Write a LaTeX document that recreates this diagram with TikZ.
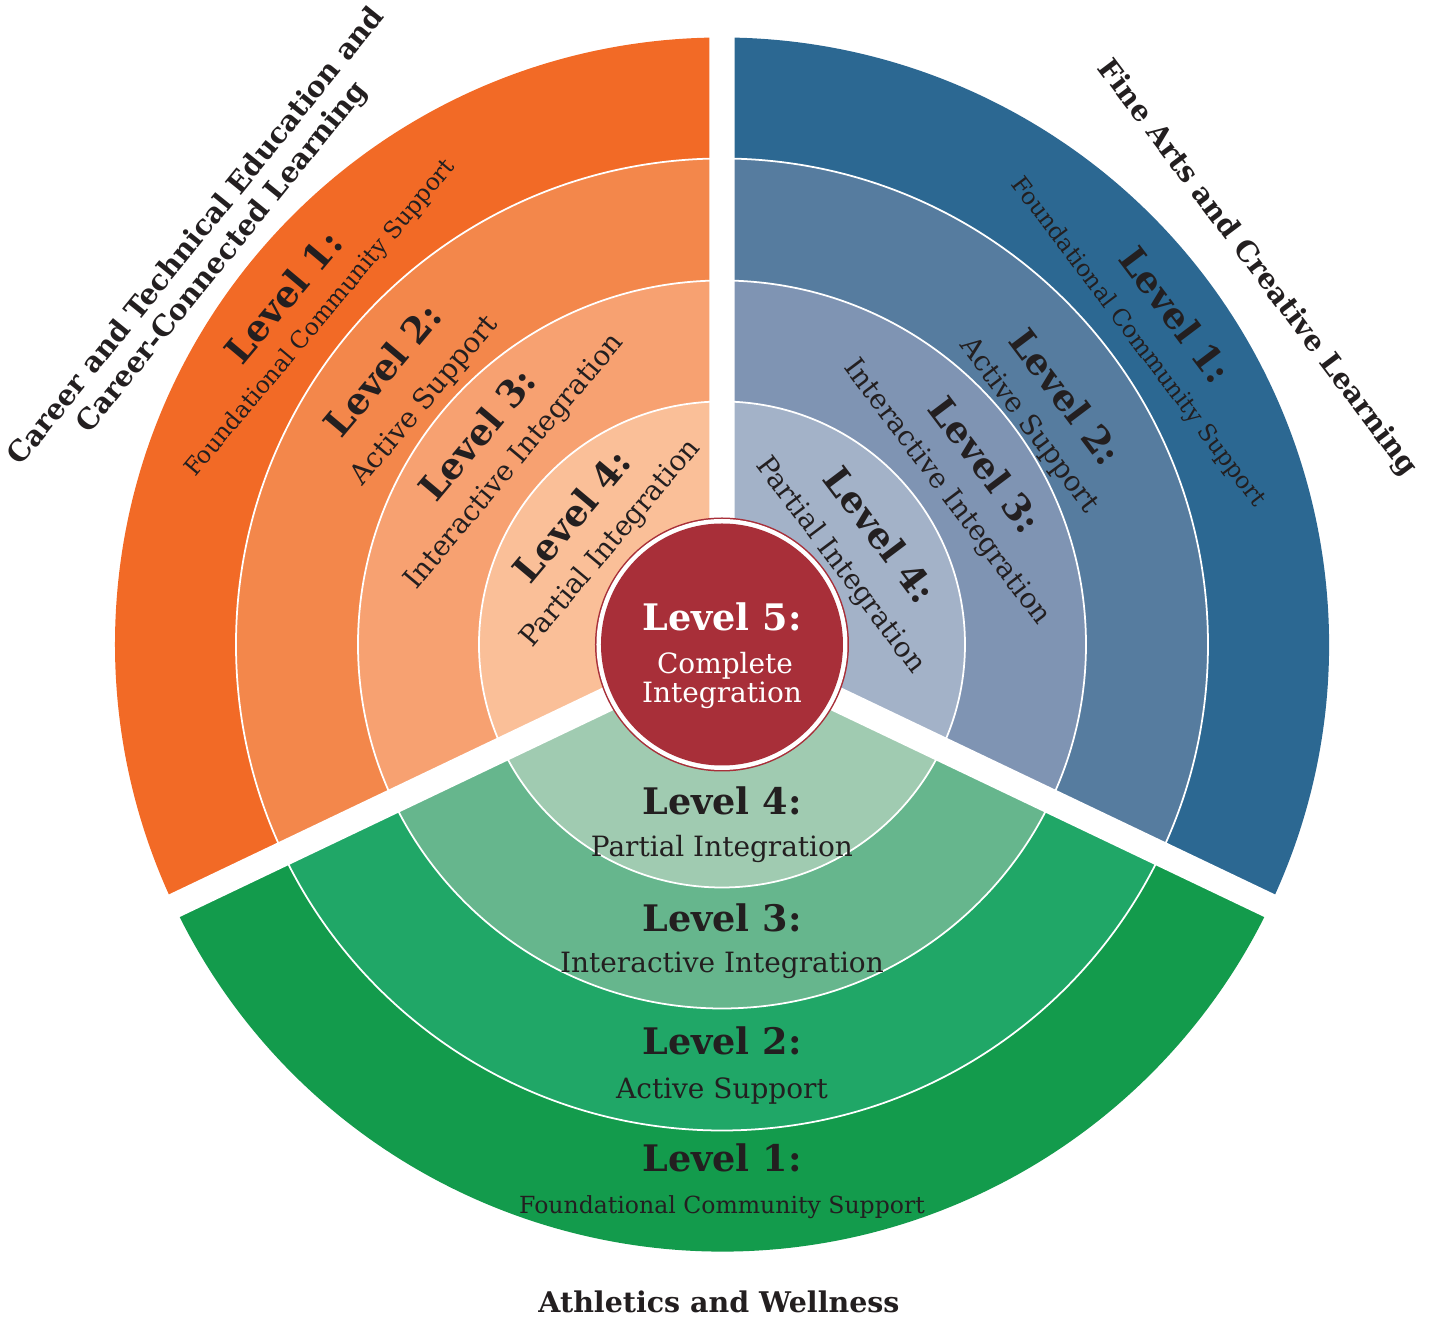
\documentclass[tikz,border=0pt]{standalone}
\usepackage{fontspec}
\setmainfont{DejaVu Serif}
\usetikzlibrary{positioning}

\definecolor{ink}{HTML}{231F20}
\definecolor{orA}{HTML}{F26A26}
\definecolor{orB}{HTML}{F3874B}
\definecolor{orC}{HTML}{F7A171}
\definecolor{orD}{HTML}{FABF98}
\definecolor{blA}{HTML}{2C6892}
\definecolor{blB}{HTML}{567C9F}
\definecolor{blC}{HTML}{7F94B3}
\definecolor{blD}{HTML}{A3B2C8}
\definecolor{grA}{HTML}{139B4C}
\definecolor{grB}{HTML}{20A767}
\definecolor{grC}{HTML}{66B68D}
\definecolor{grD}{HTML}{A0CBB1}
\definecolor{coreRed}{HTML}{A82F39}

\tikzset{
    levelname/.style={font=\fontsize{10.4}{12}\selectfont\bfseries, text=ink, inner sep=0pt},
    leveltext/.style={font=\fontsize{7.95}{9}\selectfont, text=ink, inner sep=0pt},
    leveltextsm/.style={font=\fontsize{6.7}{8}\selectfont, text=ink, inner sep=0pt},
    strandname/.style={font=\fontsize{8.1}{9.4}\selectfont\bfseries, text=ink, align=center, inner sep=0pt},
    ringline/.style={white, line width=0.5pt},
    gapband/.style={white, line width=0.25cm},
}

\begin{document}
\begin{tikzpicture}[x=0.01cm, y=0.01cm]
    \useasboundingbox (-722,644.5) rectangle (707,-673.5);

    % the three strands, outer level first
    \foreach \r/\co/\cb/\cg in {607/orA/blA/grA, 486/orB/blB/grB, 364/orC/blC/grC, 243/orD/blD/grD} {
        \fill[\co] (0,0) -- (90:\r) arc[start angle=90, end angle=205.5, radius=\r] -- cycle;
        \fill[\cb] (0,0) -- (-25.5:\r) arc[start angle=-25.5, end angle=90, radius=\r] -- cycle;
        \fill[\cg] (0,0) -- (205.5:\r) arc[start angle=205.5, end angle=334.5, radius=\r] -- cycle;
    }
    \foreach \r in {243, 364, 486}
        \draw[ringline] (0,0) circle[radius=\r];

    \draw[gapband]
    (0,0) -- (90:640)
    (0,0) -- (205.5:660)
    (0,0) -- (-25.5:660)
    ;

    % core
    \fill[coreRed] (0,0) circle[radius=127];
    \fill[white] (0,0) circle[radius=125.5];
    \fill[coreRed] (0,0) circle[radius=121];
    \node[levelname, text=white, anchor=base] (core) at (0,13.8) {Level 5:};
    \node[leveltext, text=white, anchor=base] (coreA) at (3,-29.5) {Complete};
    \node[leveltext, text=white, anchor=base] (coreB) at (0,-57.8) {Integration};

    % career and technical education
    \node[levelname, rotate=50] (oL1) at (141.6:560) {Level 1:};
    \node[leveltextsm, rotate=50] (oT1) at (140.9:517) {Foundational Community Support};
    \node[levelname, rotate=50] (oL2) at (141:437) {Level 2:};
    \node[leveltext, rotate=50] (oT2) at (140.6:384) {Active Support};
    \node[levelname, rotate=50] (oL3) at (139.4:323) {Level 3:};
    \node[leveltext, rotate=50] (oT3) at (138.6:276) {Interactive Integration};
    \node[levelname, rotate=50] (oL4) at (139.4:198) {Level 4:};
    \node[leveltext, rotate=50] (oT4) at (137.8:150) {Partial Integration};

    % fine arts
    \node[levelname, rotate=-53] (bL1) at (36:561) {Level 1:};
    \node[leveltextsm, rotate=-53] (bT1) at (36:514) {Foundational Community Support};
    \node[levelname, rotate=-53] (bL2) at (35.8:424) {Level 2:};
    \node[leveltext, rotate=-53] (bT2) at (35.5:377) {Active Support};
    \node[levelname, rotate=-53] (bL3) at (34.3:319) {Level 3:};
    \node[leveltext, rotate=-53] (bT3) at (34.1:271) {Interactive Integration};
    \node[levelname, rotate=-53] (bL4) at (34.7:193) {Level 4:};
    \node[leveltext, rotate=-53] (bT4) at (33.7:142) {Partial Integration};

    % athletics
    \node[levelname, anchor=base] (gL4) at (0,-170.5) {Level 4:};
    \node[leveltext, anchor=base] (gT4) at (0,-212.5) {Partial Integration};
    \node[levelname, anchor=base] (gL3) at (0,-287.5) {Level 3:};
    \node[leveltext, anchor=base] (gT3) at (0,-328.5) {Interactive Integration};
    \node[levelname, anchor=base] (gL2) at (0,-410.5) {Level 2:};
    \node[leveltext, anchor=base] (gT2) at (0,-453.8) {Active Support};
    \node[levelname, anchor=base] (gL1) at (0,-527.5) {Level 1:};
    \node[leveltextsm, anchor=base] (gT1) at (0,-569.5) {Foundational Community Support};

    % strand titles
    \node[strandname, rotate=51] (ctTitle) at (142.2:648) {Career and Technical Education and\\Career-Connected Learning};
    \node[strandname, rotate=-53] (faTitle) at (35.1:654) {Fine Arts and Creative Learning};
    \node[strandname, anchor=base] (awTitle) at (-3,-668.5) {Athletics and Wellness};
\end{tikzpicture}
\end{document}
